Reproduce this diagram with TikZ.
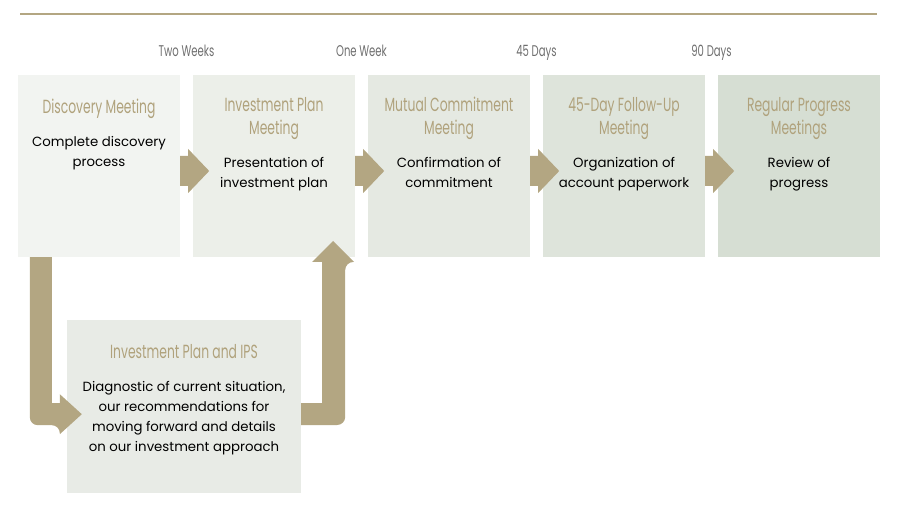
\documentclass[tikz,border=0pt]{standalone}
\usepackage{fontspec}
\setmainfont{Poppins}
\newfontfamily\headfont[FakeStretch=0.65]{Poppins}
\usetikzlibrary{calc}
\usetikzlibrary{positioning}
\definecolor{arrowtan}{HTML}{B3A682}
\definecolor{titletan}{HTML}{B0A27C}
\definecolor{timegray}{HTML}{6E6E6E}
\definecolor{stageA}{HTML}{F2F4F1}
\definecolor{stageB}{HTML}{ECEFE9}
\definecolor{stageC}{HTML}{E5E9E2}
\definecolor{stageD}{HTML}{DEE4DB}
\definecolor{stageE}{HTML}{D6DED3}
\definecolor{stageF}{HTML}{E8EBE6}
\newcommand{\stagebox}[6]{\node[#2] (#1) at (#3,#4) {};
\node[stagetitle] (#1t) at ([yshift=-22pt]#1.north) {#5};
\node[stagetext,below=16pt of #1t] (#1b) {#6};}
\newcommand{\steparrow}[1]{\fill[fat] ([yshift=-5pt]#1.east) ++(0,-15) -- ++(8,0) -- ++(0,-7) -- ++(21,22) -- ++(-21,22) -- ++(0,-7) -- ++(-8,0) -- cycle;}

\begin{document}
\begin{tikzpicture}[x=1pt,y=-1pt,
  stage/.style={rectangle,draw=none,inner sep=0pt,minimum width=162pt,minimum height=182pt},
  wide/.style={rectangle,draw=none,inner sep=0pt,minimum width=234pt,minimum height=173pt},
  struts/.style={execute at begin node=\strut,execute at end node=\strut},
  stagetitle/.style={anchor=north,align=center,inner sep=0pt,struts,text=titletan,font=\headfont\fontsize{19}{23}\selectfont},
  stagetext/.style={align=center,inner sep=0pt,struts,text=black,font=\fontsize{13.3}{20}\selectfont},
  timing/.style={anchor=base,inner sep=0pt,text=timegray,font=\headfont\fontsize{15.5}{16}\selectfont},
  fat/.style={fill=arrowtan,draw=none}]
\useasboundingbox (0,0) rectangle (900,505);
% rule across the top
\draw[line width=1.5pt,color=arrowtan] (20,14) -- (877,14);
% row of meetings
\stagebox{disc}{stage,fill=stageA}{99}{166}{Discovery Meeting}{Complete discovery\\process}
\stagebox{plan}{stage,fill=stageB}{274}{166}{Investment Plan\\Meeting}{Presentation of\\investment plan}
\stagebox{commit}{stage,fill=stageC}{449}{166}{Mutual Commitment\\Meeting}{Confirmation of\\commitment}
\stagebox{follow}{stage,fill=stageD}{624}{166}{45-Day Follow-Up\\Meeting}{Organization of\\account paperwork}
\stagebox{review}{stage,fill=stageE}{799}{166}{Regular Progress\\Meetings}{Review of\\progress}
% detour box
\stagebox{ips}{wide,fill=stageF}{184}{406.5}{Investment Plan and IPS}{Diagnostic of current situation,\\our recommendations for\\moving forward and details\\on our investment approach}
% time between meetings
\node[timing] (t1) at ($(disc.north east)!0.5!(plan.north west)+(0,-18)$) {Two Weeks};
\node[timing] (t2) at ($(plan.north east)!0.5!(commit.north west)+(0,-18)$) {One Week};
\node[timing] (t3) at ($(commit.north east)!0.5!(follow.north west)+(0,-18)$) {45 Days};
\node[timing] (t4) at ($(follow.north east)!0.5!(review.north west)+(0,-18)$) {90 Days};
% arrows along the row
\steparrow{disc}
\steparrow{plan}
\steparrow{commit}
\steparrow{follow}
% down to the plan and back up
\coordinate (dn) at ([xshift=12pt]disc.south west);
\fill[fat] (dn) [rounded corners=8pt] -- ++(0,168) -- ++(30,0) [sharp corners] -- ++(0,9) -- ++(22,-20) -- ++(-22,-20) -- ++(0,9) -- ++(-8,0) -- ++(0,-146) -- cycle;
\coordinate (up) at ([yshift=3.5pt]ips.east);
\fill[fat] (up) ++(21,0) -- (up) -- ++(0,22) [rounded corners=8pt] -- ++(44,0) -- ++(0,-163) [sharp corners] -- ++(9,0) -- ++(-21,-21) -- ++(-21,21) -- ++(10,0) -- cycle;
\end{tikzpicture}
\end{document}
